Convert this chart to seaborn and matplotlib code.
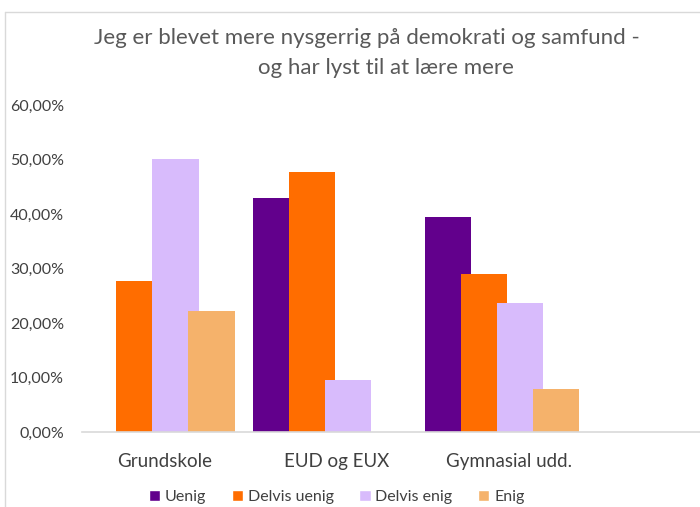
import numpy as np
import pandas as pd
import matplotlib
matplotlib.use("Agg")
import matplotlib.pyplot as plt
import matplotlib.transforms as mtransforms
import seaborn as sns
from matplotlib.lines import Line2D
from matplotlib.patches import Patch
from matplotlib.ticker import FuncFormatter, MultipleLocator

categories = ["Grundskole", "EUD og EUX", "Gymnasial udd."]
answers = ["Uenig", "Delvis uenig", "Delvis enig", "Enig"]
uenig = [0.0, 42.86, 39.47]
delvis_uenig = [27.78, 47.62, 28.95]
delvis_enig = [50.0, 9.52, 23.68]
enig = [22.22, 0.0, 7.89]
colors = ["#62008C", "#FF6D00", "#D8BBFC", "#F5B26B"]

title_lines = ["Jeg er blevet mere nysgerrig på demokrati og samfund -",
               "og har lyst til at lære mere"]

rows = []
for ans, vals in zip(answers, [uenig, delvis_uenig, delvis_enig, enig]):
    for cat, v in zip(categories, vals):
        rows.append({"Uddannelse": cat, "Svar": ans, "Andel": v})
df = pd.DataFrame(rows)

sns.set_style("white")
plt.rcParams["font.family"] = ["Lato", "DejaVu Sans"]

fig = plt.figure(figsize=(7.0, 5.07), dpi=100)
ax = fig.add_axes([0.117, 0.148, 0.883, 0.645])

sns.barplot(data=df, x="Uddannelse", y="Andel", hue="Svar", order=categories,
            hue_order=answers, palette=colors, width=0.835, saturation=1,
            legend=False, ax=ax)

# Excel-style overlapping bars: widen each bar around its centre
bar_w = 0.27
for p in ax.patches:
    cx = p.get_x() + p.get_width() / 2
    p.set_x(cx - bar_w / 2)
    p.set_width(bar_w)
    p.set_linewidth(0)

ax.set_xlim(-0.44, 3.15)
ax.set_ylim(0, 60)
ax.yaxis.set_major_locator(MultipleLocator(10))
ax.yaxis.set_major_formatter(FuncFormatter(lambda v, _: f"{v:.2f}%".replace(".", ",")))
ax.set_xlabel("")
ax.set_ylabel("")

for s in ["top", "right", "left"]:
    ax.spines[s].set_visible(False)
ax.spines["bottom"].set_color("#D9D9D9")
ax.spines["bottom"].set_linewidth(1.2)

ax.tick_params(axis="y", length=0, pad=13, labelsize=11.5, labelcolor="#404040")
ax.tick_params(axis="x", length=0, pad=15, labelsize=13.5, labelcolor="#404040")

# category labels sit a little right of the bar groups in the original
shift = mtransforms.ScaledTranslation(7 / 100, 0, fig.dpi_scale_trans)
for lbl in ax.get_xticklabels():
    lbl.set_transform(lbl.get_transform() + shift)

fig.text(367 / 700, 1 - 38 / 507, title_lines[0], ha="center", va="center",
         fontsize=16, color="#595959")
fig.text(386 / 700, 1 - 68 / 507, title_lines[1], ha="center", va="center",
         fontsize=16, color="#595959")

handles = [Patch(facecolor=c, label=a) for c, a in zip(colors, answers)]
fig.legend(handles=handles, loc="center", bbox_to_anchor=(0.481, 0.02), ncol=4,
           frameon=False, fontsize=11.5, handlelength=0.7, handleheight=0.7,
           handletextpad=0.3, columnspacing=1.6, labelcolor="#404040")

# chart area border (partly cropped in the original)
fig.add_artist(Line2D([5 / 700, 1.0], [1 - 12 / 507] * 2, transform=fig.transFigure,
                      color="#D9D9D9", linewidth=1))
fig.add_artist(Line2D([5 / 700] * 2, [0.0, 1 - 12 / 507], transform=fig.transFigure,
                      color="#D9D9D9", linewidth=1))

fig.savefig("out.png", dpi=100, facecolor="white")
